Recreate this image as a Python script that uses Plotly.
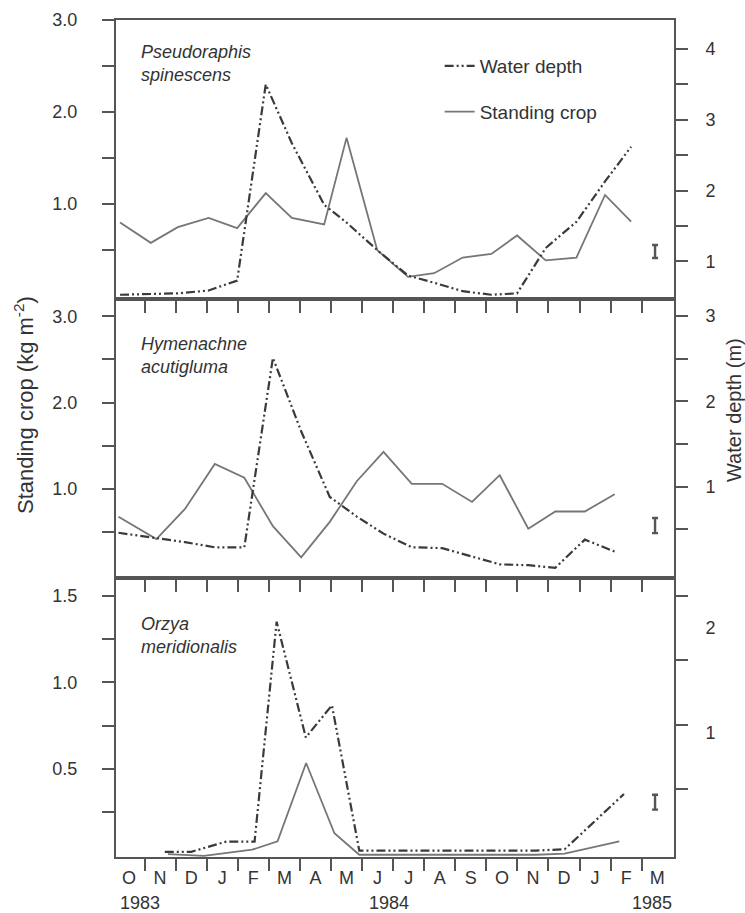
import plotly.graph_objects as go
from plotly.subplots import make_subplots

# ---------------- data (months since 1 Oct 1983) ----------------
month_letters = ["O", "N", "D", "J", "F", "M", "A", "M", "J", "J", "A", "S", "O", "N", "D", "J", "F", "M"]
year_labels = ["1983", "1984", "1985"]
year_months = [0.84, 8.87, 17.34]

species = ["Pseudoraphis<br>spinescens", "Hymenachne<br>acutigluma", "Orzya<br>meridionalis"]

top_month = [0.21, 1.20, 2.07, 3.06, 3.98, 4.90, 5.74, 6.78, 7.50, 8.49, 9.48, 10.32, 11.24, 12.16, 12.99,
             13.91, 14.90, 15.82, 16.66]
top_crop = [0.80, 0.58, 0.75, 0.85, 0.74, 1.12, 0.85, 0.78, 1.72, 0.50, 0.21, 0.25, 0.42, 0.46, 0.66,
            0.39, 0.42, 1.10, 0.81]
top_water = [0.53, 0.54, 0.55, 0.59, 0.73, 3.50, 2.67, 1.80, 1.55, 1.16, 0.80, 0.70, 0.58, 0.53, 0.55,
             1.19, 1.56, 2.13, 2.62]

mid_month = [0.16, 1.38, 2.30, 3.26, 4.21, 5.13, 6.04, 6.96, 7.83, 8.69, 9.60, 10.58, 11.54, 12.43, 13.35,
             14.22, 15.17, 16.13]
mid_crop = [0.68, 0.42, 0.77, 1.29, 1.13, 0.57, 0.21, 0.62, 1.09, 1.43, 1.06, 1.06, 0.85, 1.16, 0.54,
            0.74, 0.74, 0.94]
mid_water = [0.46, 0.40, 0.35, 0.29, 0.29, 2.51, 1.65, 0.88, 0.65, 0.45, 0.29, 0.28, 0.18, 0.09, 0.08,
             0.05, 0.38, 0.24]

bot_crop_month = [1.75, 2.91, 4.46, 5.28, 6.20, 7.11, 7.91, 8.85, 9.80, 10.75, 11.70, 12.65, 13.60, 14.52, 16.28]
bot_crop = [0.01, 0.00, 0.035, 0.083, 0.535, 0.13, 0.006, 0.006, 0.006, 0.006, 0.006, 0.006, 0.006, 0.012, 0.083]
bot_water_month = [1.65, 2.50, 3.63, 4.54, 5.25, 6.19, 7.03, 7.91, 8.85, 9.80, 10.75, 11.70, 12.65, 13.60,
                   14.52, 16.43]
bot_water = [0.01, 0.01, 0.09, 0.09, 1.80, 0.90, 1.15, 0.02, 0.02, 0.02, 0.02, 0.02, 0.02, 0.02, 0.03, 0.46]

# water-depth axes: tick marks and printed labels (the lowest panel prints its labels off the marks)
right_ranges = [[0.47, 4.41], [-0.07, 3.2], [-0.03, 2.14]]
right_marks = [[1, 1.5, 2, 2.5, 3, 3.5, 4], [0.5, 1, 1.5, 2, 2.5, 3], [0.5, 1, 1.5, 2]]
right_label_vals = [[1, 2, 3, 4], [1, 2, 3], [0.94, 1.75]]
right_label_text = [["1", "2", "3", "4"], ["1", "2", "3"], ["1", "2"]]

# standing-crop axes
left_ranges = [[-0.03, 3.0], [-0.03, 3.2], [-0.007, 1.602]]
left_marks = [[0.5, 1, 1.5, 2, 2.5, 3], [0.5, 1, 1.5, 2, 2.5, 3], [0.25, 0.5, 0.75, 1.0, 1.25, 1.5]]
left_text = [["", "1.0", "", "2.0", "", "3.0"], ["", "1.0", "", "2.0", "", "3.0"],
             ["", "0.5", "", "1.0", "", "1.5"]]

# least significant difference bars (centre, half length) in standing crop units
lsd_month = 17.43
lsd_center = [0.486, 0.577, 0.309]
lsd_half = [0.07, 0.087, 0.043]

# ---------------- styling ----------------
AX = "#555555"
TXT = "#333333"
WATER_C = "#3a3a3a"
CROP_C = "#767676"
FONT = "Liberation Sans, Arial, sans-serif"
DASH = "9px,3px,2px,3px,2px,3px"
EPS = 1e-6

fig = make_subplots(rows=3, cols=1, vertical_spacing=0,
                    specs=[[{"secondary_y": True}], [{"secondary_y": True}], [{"secondary_y": True}]])

panels = [
    (top_month, top_water, top_month, top_crop),
    (mid_month, mid_water, mid_month, mid_crop),
    (bot_water_month, bot_water, bot_crop_month, bot_crop),
]

for i, (wm, wv, cm, cv) in enumerate(panels):
    r = i + 1
    fig.add_trace(go.Scatter(x=wm, y=wv, mode="lines", name="Water depth",
                             line=dict(color=WATER_C, width=2.2, dash=DASH),
                             showlegend=(i == 0), legendgroup="water"),
                  row=r, col=1, secondary_y=True)
    fig.add_trace(go.Scatter(x=cm, y=cv, mode="lines", name="Standing crop",
                             line=dict(color=CROP_C, width=1.8),
                             showlegend=(i == 0), legendgroup="crop"),
                  row=r, col=1, secondary_y=False)
    fig.add_trace(go.Scatter(x=[lsd_month], y=[lsd_center[i]], mode="markers",
                             marker=dict(size=1, color="rgba(0,0,0,0)"),
                             error_y=dict(type="data", array=[lsd_half[i]], color="#555555",
                                          thickness=2.4, width=3),
                             showlegend=False, hoverinfo="skip"),
                  row=r, col=1, secondary_y=False)

tickfont = dict(family=FONT, size=18, color=TXT)

for r in (1, 2, 3):
    xa = dict(domain=[0, 1], range=[0.08, 18.04], showline=True, linecolor=AX, linewidth=2, mirror=True,
              showgrid=False, zeroline=False, automargin=False)
    if r < 3:
        xa.update(tickmode="array", tickvals=list(range(1, 18)), ticks="outside", ticklen=12,
                  tickwidth=1.5, tickcolor=AX, showticklabels=False)
    else:
        xa.update(tickmode="array", tickvals=[k + 0.5 for k in range(18)], ticktext=month_letters,
                  ticks="", showticklabels=True, tickfont=tickfont, ticklabelstandoff=3,
                  minor=dict(tickmode="array", tickvals=list(range(1, 18)), ticks="outside",
                             ticklen=12, tickwidth=1.5, tickcolor=AX))
    fig.update_xaxes(row=r, col=1, **xa)

for k in range(3):
    r = k + 1
    fig.update_yaxes(row=r, col=1, secondary_y=False,
                     range=left_ranges[k], tickmode="array", tickvals=left_marks[k], ticktext=left_text[k],
                     showline=True, linecolor=AX, linewidth=2, showgrid=False, zeroline=False,
                     ticks="outside", ticklen=12, tickwidth=1.5, tickcolor=AX, tickfont=tickfont,
                     ticklabelstandoff=21, automargin=False)
    # labels carried by invisible long major ticks; visible short marks drawn as minor ticks
    fig.update_yaxes(row=r, col=1, secondary_y=True,
                     range=right_ranges[k], tickmode="array",
                     tickvals=[v + EPS for v in right_label_vals[k]], ticktext=right_label_text[k],
                     showline=True, linecolor=AX, linewidth=2, showgrid=False, zeroline=False,
                     ticks="outside", ticklen=26, tickwidth=1, tickcolor="rgba(0,0,0,0)",
                     tickfont=tickfont, automargin=False,
                     minor=dict(tickmode="array", tickvals=right_marks[k], ticks="outside",
                                ticklen=12, tickwidth=1.5, tickcolor=AX, showgrid=False))

annotations = []
species_y = [0.9486, 0.5992, 0.2652]
for name, yy in zip(species, species_y):
    annotations.append(dict(text="<i>" + name + "</i>", xref="paper", yref="paper", x=0.0412, y=yy,
                            xanchor="left", yanchor="middle", align="left", showarrow=False,
                            font=dict(family=FONT, size=18, color=TXT)))
for lab, xm in zip(year_labels, year_months):
    annotations.append(dict(text=lab, xref="x3", yref="paper", x=xm, y=-0.0550, xanchor="center",
                            yanchor="middle", showarrow=False, font=dict(family=FONT, size=18, color=TXT)))
annotations.append(dict(text="Standing crop (kg m<sup>-2</sup>)", xref="paper", yref="paper", x=-0.1649,
                        y=0.540, textangle=-90, xanchor="center", yanchor="middle", showarrow=False,
                        font=dict(family=FONT, size=22, color=TXT)))
annotations.append(dict(text="Water depth (m)", xref="paper", yref="paper", x=1.1075, y=0.534,
                        textangle=-90, xanchor="center", yanchor="middle", showarrow=False,
                        font=dict(family=FONT, size=20, color=TXT)))

fig.update_layout(
    width=745, height=913,
    margin=dict(l=116, r=71, t=20, b=56, autoexpand=False),
    paper_bgcolor="white", plot_bgcolor="white",
    font=dict(family=FONT, size=18, color=TXT),
    showlegend=True,
    legend=dict(x=0.580, y=0.9677, xanchor="left", yanchor="top", bgcolor="rgba(0,0,0,0)",
                borderwidth=0, tracegroupgap=18, font=dict(family=FONT, size=19, color=TXT)),
    annotations=annotations,
)

fig.write_html("out.html", config={"displayModeBar": False},
               post_script="document.body.style.margin='0px';document.body.style.overflow='hidden';")
